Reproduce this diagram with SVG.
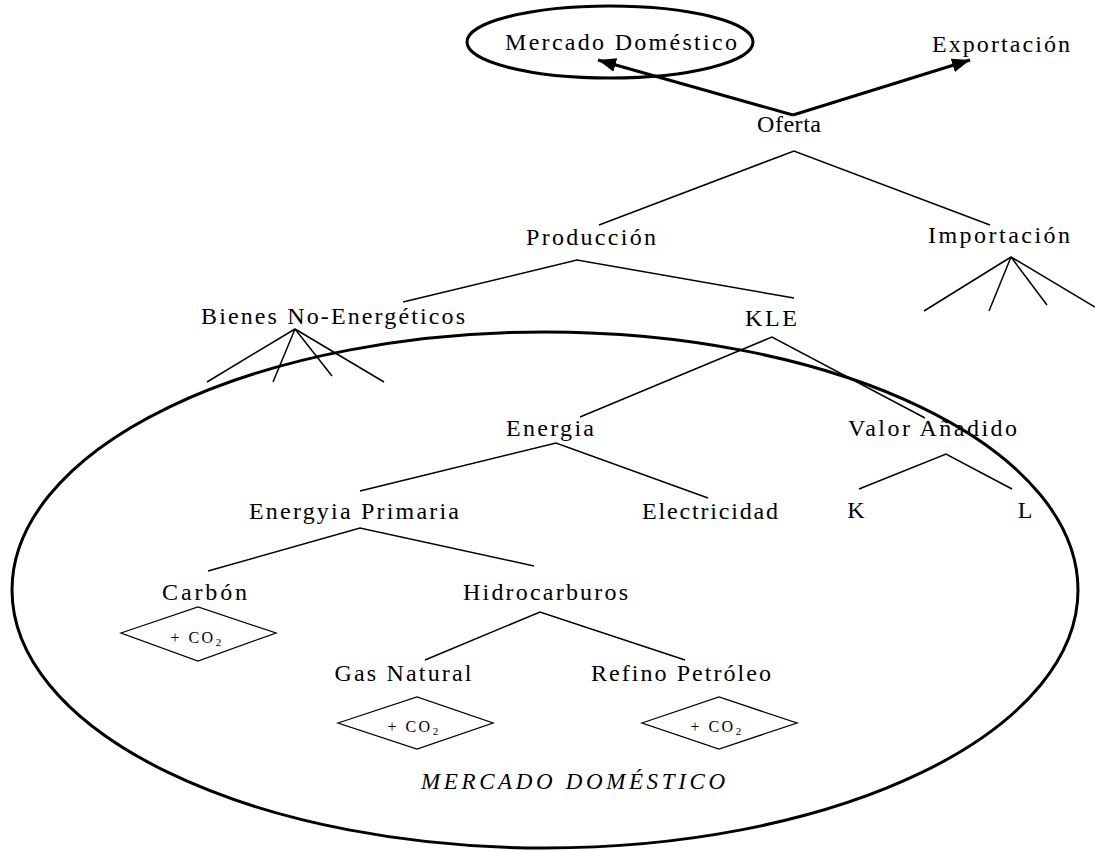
<svg xmlns="http://www.w3.org/2000/svg" width="1095" height="852" viewBox="0 0 1095 852">
  <style>
    .lbl { font-family: "Liberation Serif", "Times New Roman", serif; font-size: 24px; fill: #000; text-anchor: middle; }
    .co2 { font-family: "Liberation Serif", "Times New Roman", serif; font-size: 16px; fill: #000; text-anchor: middle; letter-spacing: 2.5px; }
    .sub { font-size: 11px; }
    .big { font-family: "Liberation Serif", "Times New Roman", serif; font-size: 23px; font-style: italic; fill: #000; text-anchor: middle; }
    .edge { stroke: #000; stroke-width: 1.5; fill: none; }
    .flow { stroke: #000; stroke-width: 3; fill: none; }
    .ring { stroke: #000; stroke-width: 3; fill: none; }
    .dia { stroke: #000; stroke-width: 1.3; fill: #fff; }
  </style>
  <defs>
    <marker id="head" markerUnits="userSpaceOnUse" markerWidth="20" markerHeight="14" refX="18" refY="7" orient="auto">
      <path d="M0,0 L18,7 L0,14 Z" fill="#000"/>
    </marker>
  </defs>

  <rect width="1095" height="852" fill="#fff"/>

  <!-- domestic market region -->
  <ellipse id="region-domestic" class="ring" cx="545" cy="590" rx="533" ry="258"/>

  <!-- tree connectors -->
  <g id="connectors">
    <!-- supply split into domestic market and export -->
    <line class="flow" x1="793" y1="115" x2="598" y2="60" marker-end="url(#head)"/>
    <line class="flow" x1="793" y1="115" x2="970" y2="60" marker-end="url(#head)"/>
    <!-- Oferta -->
    <polyline class="edge" points="599,225 794,151 990,225"/>
    <!-- Producción -->
    <polyline class="edge" points="403,302 577,260 794,298"/>
    <!-- Bienes No-Energéticos -->
    <line class="edge" x1="295" y1="329" x2="207" y2="382"/>
    <line class="edge" x1="295" y1="329" x2="273" y2="382"/>
    <line class="edge" x1="295" y1="329" x2="332" y2="376"/>
    <line class="edge" x1="295" y1="329" x2="384" y2="382"/>
    <!-- Importación -->
    <line class="edge" x1="1011" y1="257" x2="924" y2="311"/>
    <line class="edge" x1="1011" y1="257" x2="989" y2="311"/>
    <line class="edge" x1="1011" y1="257" x2="1047" y2="305"/>
    <line class="edge" x1="1011" y1="257" x2="1095" y2="307"/>
    <!-- KLE -->
    <polyline class="edge" points="580,417 772,337 925,418"/>
    <!-- Energia -->
    <polyline class="edge" points="360,491 556,443 708,498"/>
    <!-- Energyia Primaria -->
    <polyline class="edge" points="208,571 360,528 534,566"/>
    <!-- Hidrocarburos -->
    <polyline class="edge" points="425,660 540,612 685,660"/>
    <!-- Valor Añadido -->
    <polyline class="edge" points="859,489 946,454 1012,489"/>
  </g>

  <g id="node-mercado">
    <ellipse class="ring" cx="610" cy="42" rx="143" ry="36"/>
    <text class="lbl" x="621" y="50" textLength="232" lengthAdjust="spacing">Mercado Doméstico</text>
  </g>
  <g id="node-exportacion">
    <text class="lbl" x="1001" y="52" textLength="138" lengthAdjust="spacing">Exportación</text>
  </g>
  <g id="node-oferta">
    <text class="lbl" x="789" y="132" textLength="64" lengthAdjust="spacing">Oferta</text>
  </g>
  <g id="node-produccion">
    <text class="lbl" x="591" y="245" textLength="130" lengthAdjust="spacing">Producción</text>
  </g>
  <g id="node-importacion">
    <text class="lbl" x="999" y="243" textLength="142" lengthAdjust="spacing">Importación</text>
  </g>
  <g id="node-bienes">
    <text class="lbl" x="333" y="324" textLength="264" lengthAdjust="spacing">Bienes No-Energéticos</text>
  </g>
  <g id="node-kle">
    <text class="lbl" x="771" y="326" textLength="52" lengthAdjust="spacing">KLE</text>
  </g>
  <g id="node-energia">
    <text class="lbl" x="550" y="436" textLength="88" lengthAdjust="spacing">Energia</text>
  </g>
  <g id="node-valor">
    <text class="lbl" x="932.5" y="436" textLength="169" lengthAdjust="spacing">Valor Añadido</text>
  </g>
  <g id="node-primaria">
    <text class="lbl" x="354" y="519" textLength="210" lengthAdjust="spacing">Energyia Primaria</text>
  </g>
  <g id="node-electricidad">
    <text class="lbl" x="710" y="519" textLength="136" lengthAdjust="spacing">Electricidad</text>
  </g>
  <g id="node-k">
    <text class="lbl" x="856" y="518">K</text>
  </g>
  <g id="node-l">
    <text class="lbl" x="1025" y="518">L</text>
  </g>
  <g id="node-carbon">
    <text class="lbl" x="204.5" y="600" textLength="85" lengthAdjust="spacing">Carbón</text>
    <polygon class="dia" points="121,633 198,607 276,633 198,661"/>
    <text class="co2" x="197" y="643">+ CO<tspan class="sub" dy="3">2</tspan></text>
  </g>
  <g id="node-hidrocarburos">
    <text class="lbl" x="545.5" y="600" textLength="165" lengthAdjust="spacing">Hidrocarburos</text>
  </g>
  <g id="node-gas">
    <text class="lbl" x="403" y="681" textLength="137" lengthAdjust="spacing">Gas Natural</text>
    <polygon class="dia" points="338,723 417,697 493,723 417,749"/>
    <text class="co2" x="414" y="732">+ CO<tspan class="sub" dy="3">2</tspan></text>
  </g>
  <g id="node-refino">
    <text class="lbl" x="681" y="681" textLength="180" lengthAdjust="spacing">Refino Petróleo</text>
    <polygon class="dia" points="642,723 719,697 797,723 719,749"/>
    <text class="co2" x="717" y="732">+ CO<tspan class="sub" dy="3">2</tspan></text>
  </g>

  <g id="label-region">
    <text class="big" x="573" y="789" textLength="304" lengthAdjust="spacing">MERCADO DOMÉSTICO</text>
  </g>
</svg>
